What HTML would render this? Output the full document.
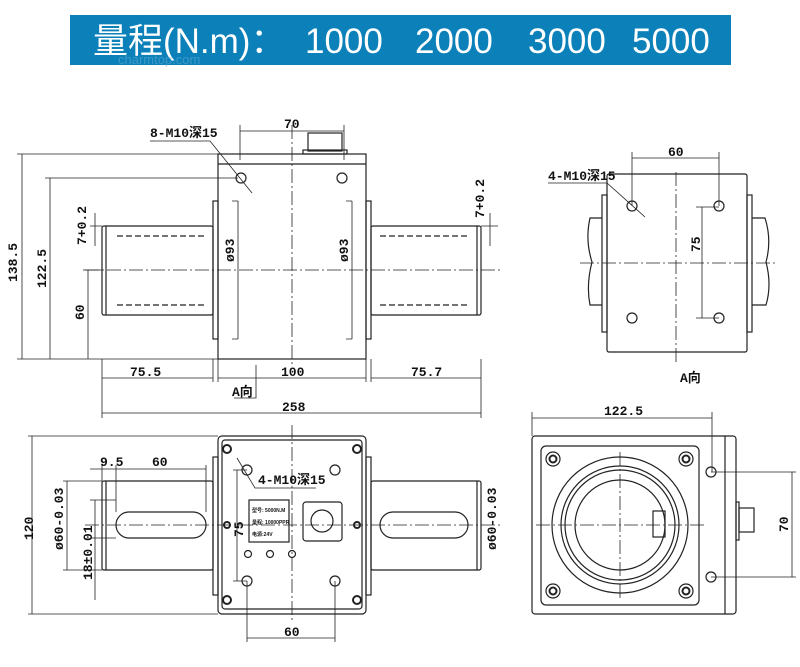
<!DOCTYPE html>
<html><head><meta charset="utf-8"><style>
html,body{margin:0;padding:0;background:#fff;width:800px;height:667px;overflow:hidden}
svg{display:block}
text{font-family:"Liberation Sans","Noto Sans CJK SC",sans-serif}
.d{font-family:"Liberation Mono","Noto Sans CJK SC",monospace;font-size:13px;font-weight:bold;fill:#111}
</style></head><body>
<svg width="800" height="667" viewBox="0 0 800 667" xmlns="http://www.w3.org/2000/svg">
<rect x="70" y="15" width="661" height="50" fill="#0b80b9"/>
<g fill="#fff" font-size="35">
<text x="93" y="53">量程(N.m)：</text>
<text x="305" y="53">1000</text>
<text x="415" y="53">2000</text>
<text x="528" y="53">3000</text>
<text x="632" y="53">5000</text>
</g>
<text x="118" y="64" fill="#5fa9cf" font-size="13" opacity="0.6">charmtop.com</text>

<g fill="none" stroke="#222" stroke-width="1.2">
<rect x="218" y="154" width="148" height="205"/>
<line x1="218" y1="164" x2="366" y2="164"/>
<rect x="308" y="133" width="34" height="18"/><rect x="303" y="150" width="44" height="4"/>
<rect x="213" y="201" width="5" height="138"/><rect x="366" y="201" width="5" height="138"/>
<rect x="102" y="226" width="111" height="89" rx="2"/><rect x="371" y="226" width="110" height="89" rx="2"/>
<line x1="106" y1="226" x2="106" y2="315"/><line x1="477" y1="226" x2="477" y2="315"/>
<path d="M117 236H205M117 305H205M380 236H468M380 305H468" stroke-dasharray="6,3"/>
<circle cx="241" cy="178" r="5"/><circle cx="342" cy="178" r="5"/>
<g stroke-width="0.8">
<path d="M85 270H500M292 125V365" stroke-dasharray="14,3,2,3"/>
<path d="M240 131H344M240 125V160M344 125V160"/>
<path d="M150 141H210L252 193"/>
<path d="M17 154H218M22 154V359M45 178H238M50 178V359M17 359H218M83 270H102M88 270V359"/>
<path d="M95 213V246M90 226H102M490 213V246M481 226H498"/>
<path d="M238 201V339M352 201V339M232 201H238M232 339H238M346 201H352M346 339H352"/>
<path d="M102 359V418M213 359V382M218 359V382M366 359V382M371 359V382M481 359V418"/>
<path d="M102 378H213M218 378H366M371 378H481M102 413H481M256 365V398H234"/>
</g>
</g>
<text class="d" x="150" y="137">8-M10深15</text>
<text class="d" x="284" y="128">70</text>
<text class="d" x="130" y="376">75.5</text>
<text class="d" x="281" y="376">100</text>
<text class="d" x="411" y="376">75.7</text>
<text class="d" x="282" y="411">258</text>
<text class="d" x="232" y="396">A向</text>
<text class="d" transform="translate(17,282) rotate(-90)">138.5</text>
<text class="d" transform="translate(46,288) rotate(-90)">122.5</text>
<text class="d" transform="translate(84,320) rotate(-90)">60</text>
<text class="d" transform="translate(234,262) rotate(-90)">ø93</text>
<text class="d" transform="translate(348,262) rotate(-90)">ø93</text>
<text class="d" font-size="10" transform="translate(86,245) rotate(-90)">7+0.2</text>
<text class="d" font-size="10" transform="translate(484,218) rotate(-90)">7+0.2</text>

<g fill="none" stroke="#222" stroke-width="1.2">
<rect x="607" y="174" width="140" height="178" rx="2"/>
<rect x="602" y="195" width="5" height="137"/><rect x="747" y="195" width="5" height="137"/>
<path d="M602 218H590Q585 240 592 262Q586 285 590 305H602M752 218H765Q772 240 766 262Q772 285 766 305H752"/>
<circle cx="632" cy="206" r="5"/><circle cx="719" cy="206" r="5"/><circle cx="632" cy="318" r="5"/><circle cx="719" cy="318" r="5"/>
<g stroke-width="0.8">
<path d="M580 263H775M676 172V362" stroke-dasharray="14,3,2,3"/>
<path d="M632 158H719M632 152V206M719 152V206M702 207V318M696 207H719M696 318H719M548 183H607L645 217"/>
</g>
</g>
<text class="d" x="548" y="180">4-M10深15</text>
<text class="d" x="668" y="156">60</text>
<text class="d" transform="translate(700,252) rotate(-90)">75</text>
<text class="d" x="680" y="382">A向</text>

<g fill="none" stroke="#222" stroke-width="1.2">
<rect x="218" y="436" width="148" height="178" rx="4"/>
<rect x="222" y="440" width="140" height="169" rx="3"/>
<rect x="213" y="457" width="5" height="138"/><rect x="366" y="457" width="5" height="138"/>
<rect x="102" y="481" width="111" height="89" rx="2"/><rect x="371" y="481" width="110" height="89" rx="2"/>
<line x1="106" y1="481" x2="106" y2="570"/><line x1="477" y1="481" x2="477" y2="570"/>
<rect x="116" y="512" width="90" height="26" rx="13"/><rect x="380" y="512" width="88" height="26" rx="13"/>
<g stroke-width="2"><circle cx="227" cy="449" r="4"/><circle cx="357" cy="449" r="4"/><circle cx="227" cy="600" r="4"/><circle cx="357" cy="600" r="4"/><circle cx="227" cy="525" r="3"/><circle cx="357" cy="525" r="3"/></g>
<circle cx="247" cy="470" r="5"/><circle cx="335" cy="470" r="5"/><circle cx="247" cy="581" r="5"/><circle cx="335" cy="581" r="5"/>
<rect x="249" y="500" width="40" height="42"/>
<rect x="303" y="502" width="39" height="39" rx="3"/><circle cx="322" cy="521" r="11"/>
<circle cx="248" cy="554" r="3.5"/><circle cx="270" cy="554" r="3.5"/><circle cx="292" cy="554" r="3.5"/>
<g stroke-width="0.8">
<path d="M85 525H500M292 425V620" stroke-dasharray="14,3,2,3"/>
<path d="M28 436H218M32 436V614M28 614H218M63 481H102M63 570H102M67 481V570"/>
<path d="M90 500H116M90 538H116M95 500V600"/>
<path d="M90 469H206M102 465V481M116 465V512M206 465V512"/>
<path d="M237 470V581M233 470H247M233 581H247M247 581V642M335 581V642M247 638H335"/>
<path d="M237 458L255 488H316"/>
</g>
</g>
<g class="d"><text x="252" y="512" font-size="5">型号: 5000N.M</text><text x="252" y="524" font-size="5">量程: 10000PPR</text><text x="252" y="536" font-size="5">电源:24V</text></g>
<text class="d" x="258" y="484">4-M10深15</text>
<text class="d" x="100" y="466">9.5</text>
<text class="d" x="152" y="466">60</text>
<text class="d" x="284" y="636">60</text>
<text class="d" transform="translate(243,537) rotate(-90)">75</text>
<text class="d" transform="translate(33,540) rotate(-90)">120</text>
<text class="d" transform="translate(63,550) rotate(-90)">ø60-0.03</text>
<text class="d" transform="translate(92,580) rotate(-90)">18±0.01</text>
<text class="d" transform="translate(496,550) rotate(-90)">ø60-0.03</text>

<g fill="none" stroke="#222" stroke-width="1.2">
<rect x="532" y="436" width="204" height="178" rx="3"/>
<line x1="725" y1="436" x2="725" y2="614"/>
<rect x="541" y="446" width="158" height="159" rx="5"/>
<circle cx="620" cy="525" r="68"/><circle cx="620" cy="525" r="59"/><circle cx="620" cy="525" r="55"/><circle cx="620" cy="525" r="45"/>
<rect x="653" y="511" width="12" height="26"/>
<circle cx="553" cy="459" r="7"/><circle cx="686" cy="459" r="7"/><circle cx="553" cy="591" r="7"/><circle cx="686" cy="591" r="7"/>
<g stroke-width="2"><circle cx="553" cy="459" r="3.5"/><circle cx="686" cy="459" r="3.5"/><circle cx="553" cy="591" r="3.5"/><circle cx="686" cy="591" r="3.5"/></g>
<circle cx="711" cy="472" r="5"/><circle cx="711" cy="577" r="5"/>
<rect x="736" y="502" width="3" height="38"/><rect x="739" y="508" width="15" height="24"/>
<g stroke-width="0.8">
<path d="M536 525H705M620 452V598" stroke-dasharray="14,3,2,3"/>
<path d="M532 418H712M532 412V436M712 412V472M711 472H796M711 577H796M792 472V577"/>
</g>
</g>
<text class="d" x="604" y="415">122.5</text>
<text class="d" transform="translate(788,532) rotate(-90)">70</text>
</svg>
</body></html>
